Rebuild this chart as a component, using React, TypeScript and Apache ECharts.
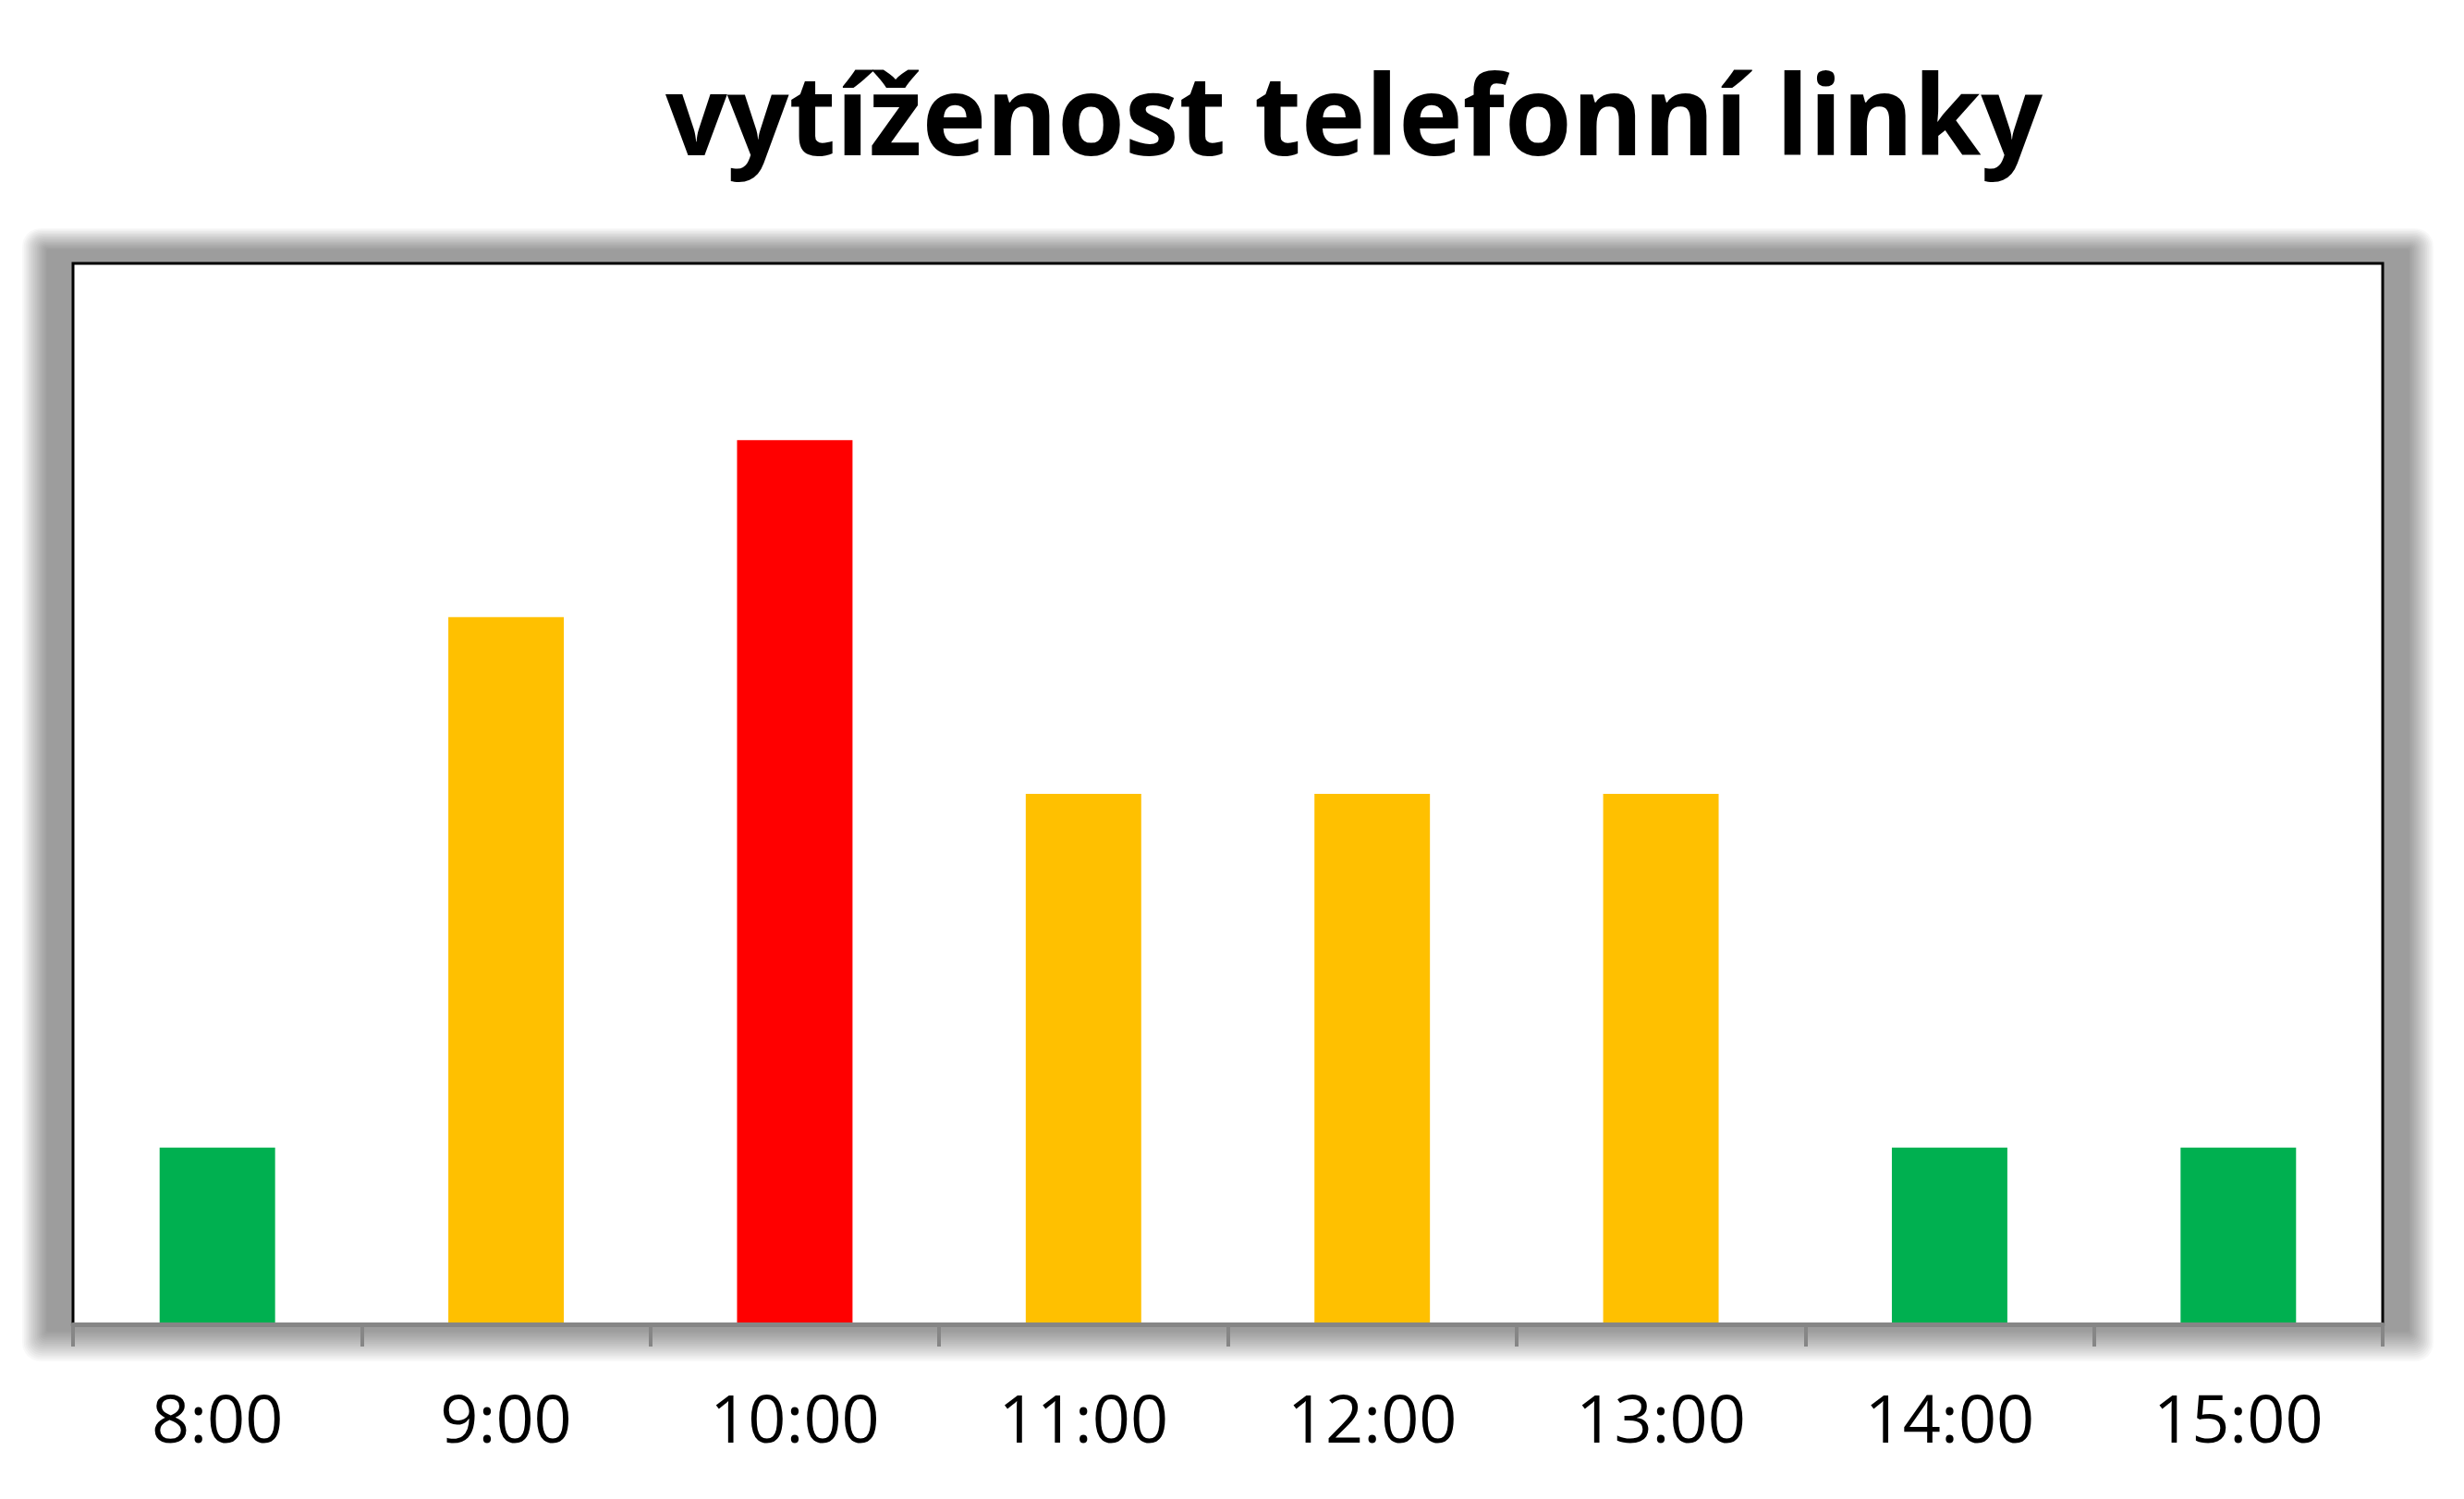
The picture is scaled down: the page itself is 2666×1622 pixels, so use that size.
import React, { useEffect, useRef } from "react";
import * as echarts from "echarts";

const categories = ["8:00", "9:00", "10:00", "11:00", "12:00", "13:00", "14:00", "15:00"];
const values = [1, 4, 5, 3, 3, 3, 1, 1];
const barColors = ["#00B050", "#FFC000", "#FF0000", "#FFC000", "#FFC000", "#FFC000", "#00B050", "#00B050"];
const titleText = "vytíženost telefonní linky";

const W = 2666;
const H = 1622;
const GL = 79;
const GR = 2578;
const GT = 285;
const GB = 1433;

function shadowLayers() {
  const N = 16;
  const a = 0.026;
  const sides = { l: [27, 28], t: [14, 24], r: [27, 28], b: [6, 34] };
  const out: any[] = [];
  for (let i = 0; i < N; i++) {
    const k = 1 - i / N;
    const el = sides.l[0] + sides.l[1] * k;
    const et = sides.t[0] + sides.t[1] * k;
    const er = sides.r[0] + sides.r[1] * k;
    const eb = sides.b[0] + sides.b[1] * k;
    out.push({
      type: "rect",
      z: -10,
      silent: true,
      shape: { x: GL - el, y: GT - et, width: GR - GL + el + er, height: GB - GT + et + eb, r: Math.max(2, 20 * k) },
      style: { fill: "rgba(0,0,0," + a + ")" },
    });
  }
  return out;
}

export default function App() {
  const ref = useRef<HTMLDivElement>(null);
  useEffect(() => {
    if (!ref.current) return;
    const chart = echarts.init(ref.current, null, { renderer: "svg", width: W, height: H });
    const titleFont = 'bold 120px "Open Sans"';
    let scaleX = 0.8;
    try {
      const c = document.createElement("canvas").getContext("2d");
      if (c) {
        c.font = titleFont;
        const w = c.measureText(titleText).width;
        if (w > 0) scaleX = 1490 / w;
      }
    } catch (e) {}
    chart.setOption({
      animation: false,
      backgroundColor: "#ffffff",
      graphic: [
        ...shadowLayers(),
        {
          type: "text",
          x: 1465,
          y: 122,
          scaleX: scaleX,
          scaleY: 1,
          style: {
            text: titleText,
            font: titleFont,
            fill: "#000000",
            textAlign: "center",
            textVerticalAlign: "middle",
          },
        },
      ],
      grid: {
        left: GL,
        right: W - GR,
        top: GT,
        bottom: H - GB,
        show: true,
        backgroundColor: "#ffffff",
        borderColor: "#000000",
        borderWidth: 3,
      },
      xAxis: {
        type: "category",
        data: categories,
        boundaryGap: true,
        z: 5,
        axisLine: { show: true, lineStyle: { color: "#868686", width: 5 } },
        axisTick: { show: true, length: 24, lineStyle: { color: "#868686", width: 4 }, alignWithLabel: false },
        axisLabel: {
          color: "#000000",
          fontFamily: '"Open Sans", "Noto Sans", sans-serif',
          fontSize: 72,
          margin: 64,
        },
        splitLine: { show: false },
      },
      yAxis: {
        type: "value",
        min: 0,
        max: 6,
        interval: 1,
        show: false,
        splitLine: { show: false },
      },
      series: [
        {
          type: "bar",
          data: values.map((v, i) => ({ value: v, itemStyle: { color: barColors[i] } })),
          barWidth: "40%",
        },
      ],
    });
    return () => chart.dispose();
  }, []);
  return <div ref={ref} style={{ position: "absolute", left: 0, top: 0, width: W, height: H }} />;
}
